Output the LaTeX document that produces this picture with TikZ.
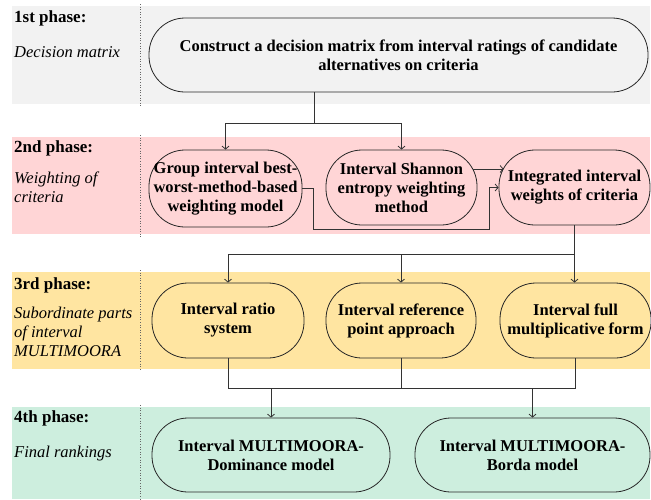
\documentclass[tikz,border=0pt]{standalone}
\usepackage{fontspec}
\setmainfont{Liberation Serif}
\usetikzlibrary{arrows.meta}
\definecolor{bandgray}{HTML}{F2F2F2}
\definecolor{bandpink}{HTML}{FFD5D6}
\definecolor{bandyellow}{HTML}{FFE5A1}
\definecolor{bandgreen}{HTML}{CDEEDE}
\begin{document}
\begin{tikzpicture}[x=1pt,y=-1pt,
  box/.style={rectangle, rounded corners=36pt, draw=black!85, line width=0.8pt, align=center,
    font=\fontsize{16.5}{19}\selectfont\bfseries, inner sep=0pt},
  arr/.style={-{Straight Barb[length=3pt,width=7pt]}, draw=black!80, line width=0.8pt},
  ln/.style={draw=black!80, line width=0.8pt},
  ph/.style={anchor=west, font=\fontsize{17}{19}\selectfont\bfseries, inner sep=0pt},
  phi/.style={anchor=north west, align=left, font=\fontsize{16.5}{19}\selectfont\itshape, inner sep=0pt},
  sep/.style={draw=black!60, line width=0.6pt, dotted}
]
\useasboundingbox (0,0) rectangle (651,499);
% bands
\fill[bandgray] (12,6) rectangle (650,104);
\fill[bandpink] (12,137) rectangle (650,234);
\fill[bandyellow] (12,272) rectangle (650,369);
\fill[bandgreen] (12,407) rectangle (650,499);
\draw[sep] (140,4) -- (140,106);
\draw[sep] (140,135) -- (140,237);
\draw[sep] (140,270) -- (140,371);
\draw[sep] (140,405) -- (140,499);
% phase labels
\node[ph] (p1) at (14,18) {1st phase:};
\node[phi] (p1t) at (14,46) {Decision matrix};
\node[ph] (p2) at (14,148) {2nd phase:};
\node[phi] (p2t) at (14,172) {Weighting of\\criteria};
\node[ph] (p3) at (14,285) {3rd phase:};
\node[phi] (p3t) at (14,307) {Subordinate parts\\of interval\\MULTIMOORA};
\node[ph] (p4) at (14,418) {4th phase:};
\node[phi] (p4t) at (14,446) {Final rankings};
% nodes
\node[box, minimum width=499pt, minimum height=74pt] (n1) at (398.5,55)
  {Construct a decision matrix from interval ratings of candidate\\alternatives on criteria};
\node[box, minimum width=153pt, minimum height=77pt] (a2) at (225.5,188.5)
  {Group interval best-\\worst-method-based\\weighting model};
\node[box, minimum width=151pt, minimum height=75pt] (b2) at (401.5,187.5)
  {Interval Shannon\\entropy weighting\\method};
\node[box, minimum width=151pt, minimum height=75pt] (c2) at (574.5,187.5)
  {Integrated interval\\weights of criteria};
\node[box, minimum width=152pt, minimum height=75pt] (a3) at (228,320.5)
  {Interval ratio\\system};
\node[box, minimum width=150pt, minimum height=75pt] (b3) at (401,320.5)
  {Interval reference\\point approach};
\node[box, minimum width=151pt, minimum height=75pt] (c3) at (575.5,320.5)
  {Interval full\\multiplicative form};
\node[box, minimum width=238pt, minimum height=74pt] (a4) at (271,455)
  {Interval MULTIMOORA-\\Dominance model};
\node[box, minimum width=235pt, minimum height=74pt] (b4) at (532.5,455)
  {Interval MULTIMOORA-\\Borda model};
% connectors phase 1 -> 2
\coordinate (j1) at (314,123);
\draw[ln] (j1 |- n1.south) -- (j1);
\draw[arr] (j1) -| (a2.north);
\draw[arr] (j1) -| (b2.north);
% phase 2 internal
\coordinate (u) at (0,169);
\draw[arr] ([xshift=-4pt]u -| b2.east) -- ([xshift=5pt]u -| c2.west);
\coordinate (k1) at (313,229);
\coordinate (k2) at (489,229);
\draw[arr] (a2.east) -| (k1) -- (k2) |- (c2.west);
% phase 2 -> 3
\coordinate (j2) at (c2.south |- 0,254);
\draw[ln] (c2.south) -- (j2);
\draw[arr] (j2) -| (a3.north);
\draw[arr] (j2 -| b3.north) -- (b3.north);
\draw[arr] (j2) -- (c2.south |- c3.north);
% phase 3 -> 4
\coordinate (m) at (0,388);
\draw[ln] (a3.south) -- (a3.south |- m) -- (c3.south |- m) -- (c3.south);
\draw[ln] (b3.south) -- (b3.south |- m);
\draw[arr] (a4.north |- m) -- (a4.north);
\draw[arr] (b4.north |- m) -- (b4.north);
\end{tikzpicture}
\end{document}
